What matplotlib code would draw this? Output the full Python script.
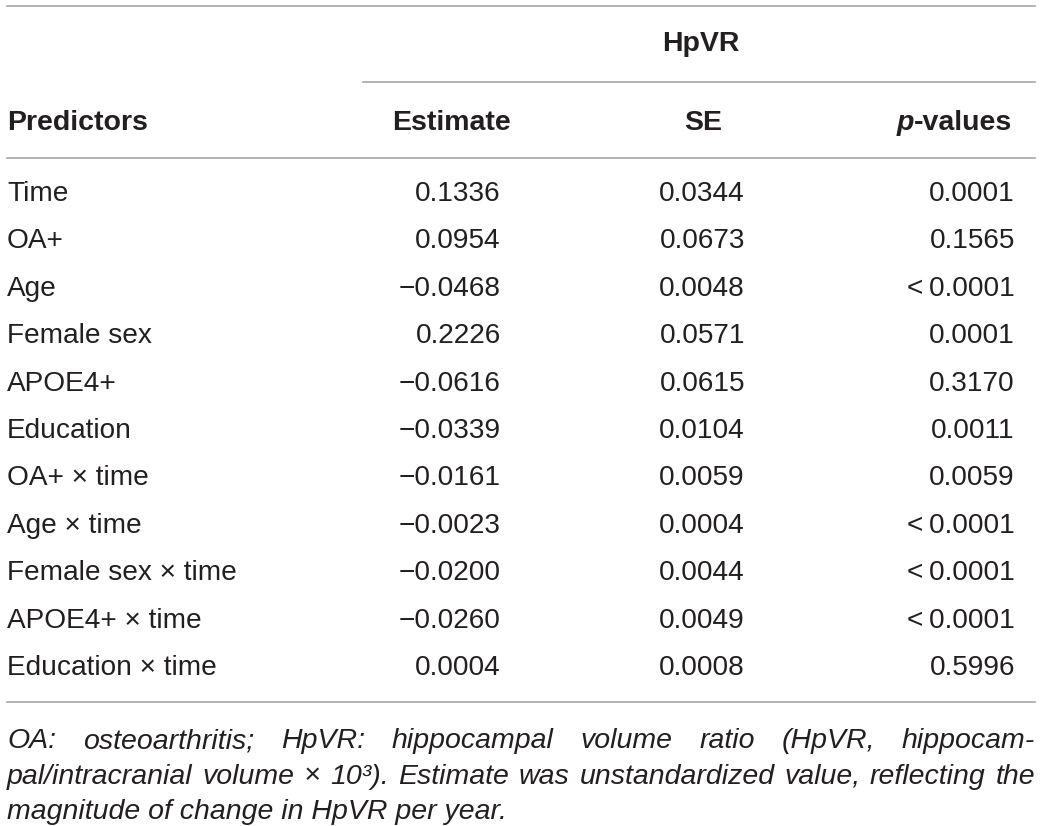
import matplotlib.pyplot as plt

predictors = ["Time", "OA+", "Age", "Female sex", "APOE4+", "Education",
              "OA+ \u00d7 time", "Age \u00d7 time", "Female sex \u00d7 time",
              "APOE4+ \u00d7 time", "Education \u00d7 time"]
estimate = ["0.1336", "0.0954", "\u22120.0468", "0.2226", "\u22120.0616", "\u22120.0339",
            "\u22120.0161", "\u22120.0023", "\u22120.0200", "\u22120.0260", "0.0004"]
se = ["0.0344", "0.0673", "0.0048", "0.0571", "0.0615", "0.0104",
      "0.0059", "0.0004", "0.0044", "0.0049", "0.0008"]
pvals = ["0.0001", "0.1565", "<\u20090.0001", "0.0001", "0.3170", "0.0011",
         "0.0059", "<\u20090.0001", "<\u20090.0001", "<\u20090.0001", "0.5996"]

footnote = [
    "OA: osteoarthritis; HpVR: hippocampal volume ratio (HpVR, hippocam-",
    "pal/intracranial volume \u00d7 10\u00b3). Estimate was unstandardized value, reflecting the",
    "magnitude of change in HpVR per year.",
]

W, H = 1041, 826
FONT = "Liberation Sans"
FS = 20.2
LINE = "#a6a6a6"
TXT = "#231f20"

fig = plt.figure(figsize=(W / 100, H / 100), dpi=100)
ax = fig.add_axes([0, 0, 1, 1])
ax.set_xlim(0, W)
ax.set_ylim(H, 0)
ax.axis("off")
r = fig.canvas.get_renderer()


def width(t):
    bb = t.get_window_extent(renderer=r)
    return bb.width


# rules
ax.plot([7, 1035], [6, 6], color=LINE, lw=1.2)
ax.plot([363, 1035], [82, 82], color=LINE, lw=1.2)
ax.plot([7, 1035], [158, 158], color=LINE, lw=1.2)
ax.plot([7, 1035], [702, 702], color=LINE, lw=1.2)

# header
hdr = dict(fontsize=20.5, fontweight="bold", family=FONT, color=TXT, va="center")
ax.text(701, 44, "HpVR", ha="center", **hdr)
ax.text(7, 123, "Predictors", ha="left", **hdr)
ax.text(451, 123, "Estimate", ha="center", **hdr)
ax.text(703, 123, "SE", ha="center", **hdr)
tv = ax.text(1012, 123, "-values", ha="right", **hdr)
ax.text(1012 - width(tv), 123, "p", ha="right", style="italic", **hdr)

# body
body = dict(fontsize=FS, family=FONT, color=TXT, va="center")
y0, dy = 194, 47.4
for i in range(len(predictors)):
    y = y0 + i * dy
    ax.text(7, y, predictors[i], ha="left", **body)
    ax.text(501, y, estimate[i], ha="right", **body)
    ax.text(745, y, se[i], ha="right", **body)
    ax.text(1015, y, pvals[i], ha="right", **body)

# footnote, justified (baseline-aligned so punctuation doesn't shift words)
fn = dict(fontsize=20.5, family=FONT, style="italic", color=TXT, va="baseline", ha="left")
left, right = 7, 1035
for k, line in enumerate(footnote):
    y = 748 + k * 35.5
    if k == len(footnote) - 1:
        ax.text(left, y, line, **fn)
        continue
    words = line.split(" ")
    ts = [ax.text(0, y, w, **fn) for w in words]
    ws = [width(t) for t in ts]
    gap = (right - left - sum(ws)) / (len(words) - 1)
    x = left
    for t, w in zip(ts, ws):
        t.set_x(x)
        x += w + gap

fig.savefig("out.png", dpi=100)
